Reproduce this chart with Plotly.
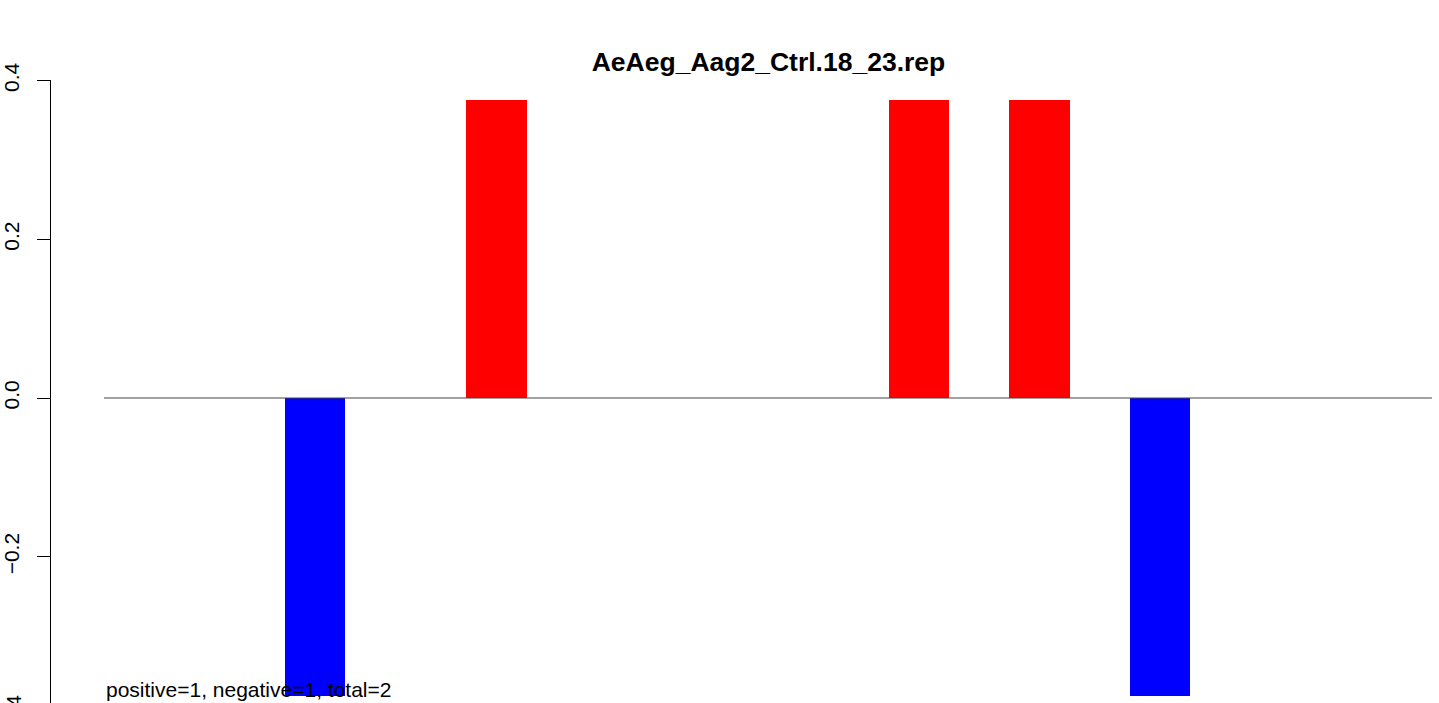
import plotly.graph_objects as go

# positions along the x axis (22 slots)
positions = list(range(1, 23))
# red (positive) and blue (negative) bar values per position
positive_vals = [0, 0, 0, 0, 0, 0, 0.375, 0, 0, 0, 0, 0, 0, 0.375, 0, 0.375, 0, 0, 0, 0, 0, 0]
negative_vals = [0, 0, 0, -0.375, 0, 0, 0, 0, 0, 0, 0, 0, 0, 0, 0, 0, 0, -0.375, 0, 0, 0, 0]
ytick_vals = [-0.4, -0.2, 0.0, 0.2, 0.4]
ytick_text = ["\u22120.2", "0.0", "0.2", "0.4"]
title_text = "AeAeg_Aag2_Ctrl.18_23.rep"
summary_text = "positive=1, negative=1, total=2"

W, H = 1439, 703
AX_X, TOP_Y = 51, 80.5          # px of y-axis line and of y=0.4
L, T = AX_X, 80
plot_w, plot_h = W - L, H - T

def px_x(wx):  # px -> paper x
    return (wx - L) / plot_w

def px_y(wy):  # px -> paper y
    return (H - wy) / plot_h

unit_x = 60.36                   # px per bar slot
bar0_left = 104                  # px of x=0.5
py_per = 317.5 / 0.4             # px per y unit

x_lo = 0.5 - (bar0_left - L) / unit_x
x_hi = 0.5 + (W - bar0_left) / unit_x
y_hi = 0.4 + (TOP_Y - T) / py_per
y_lo = y_hi - plot_h / py_per

fig = go.Figure()
fig.add_trace(go.Bar(x=positions, y=positive_vals, width=1, marker=dict(color="#FF0000", line=dict(width=0)), showlegend=False))
fig.add_trace(go.Bar(x=positions, y=negative_vals, width=1, marker=dict(color="#0000FF", line=dict(width=0)), showlegend=False))

fig.add_shape(type="line", xref="x", yref="y", x0=0.5, x1=22.5, y0=0, y1=0,
              line=dict(color="#444444", width=1), layer="above")

font_family = "Liberation Sans, Arial, Helvetica, sans-serif"

# -0.4 tick label falls just below the window edge; draw it as text
fig.add_annotation(text="\u22120.4", textangle=-90, xref="paper", yref="paper",
                   x=px_x(12.5), y=px_y(716), xanchor="center", yanchor="middle",
                   showarrow=False, font=dict(family=font_family, size=21, color="black"))

fig.add_annotation(text=summary_text, xref="paper", yref="paper",
                   x=px_x(104), y=px_y(689), xanchor="left", yanchor="middle",
                   showarrow=False, font=dict(family=font_family, size=21, color="black"))

fig.update_layout(
    width=W, height=H,
    margin=dict(l=L, r=0, t=T, b=0, pad=0, autoexpand=False),
    plot_bgcolor="white", paper_bgcolor="white",
    barmode="overlay", bargap=0,
    title=dict(text=title_text, x=px_x(768.5), xref="paper", xanchor="center",
               y=1 - 62 / H, yref="container", yanchor="middle",
               font=dict(family=font_family, size=26.5, color="black", weight="bold")),
    xaxis=dict(range=[x_lo, x_hi], visible=False, automargin=False),
    yaxis=dict(range=[y_lo, y_hi],
               tickvals=ytick_vals[1:], ticktext=ytick_text, tickangle=-90,
               ticks="outside", ticklen=13, tickcolor="black", tickwidth=1,
               showline=True, linecolor="black", linewidth=1,
               showgrid=False, zeroline=False, automargin=False,
               tickfont=dict(family=font_family, size=21, color="black"),
               ticklabelstandoff=10),
)

fig.write_html("out.html", config={"displayModeBar": False},
               post_script="document.body.style.margin='0';document.body.style.overflow='hidden';")
